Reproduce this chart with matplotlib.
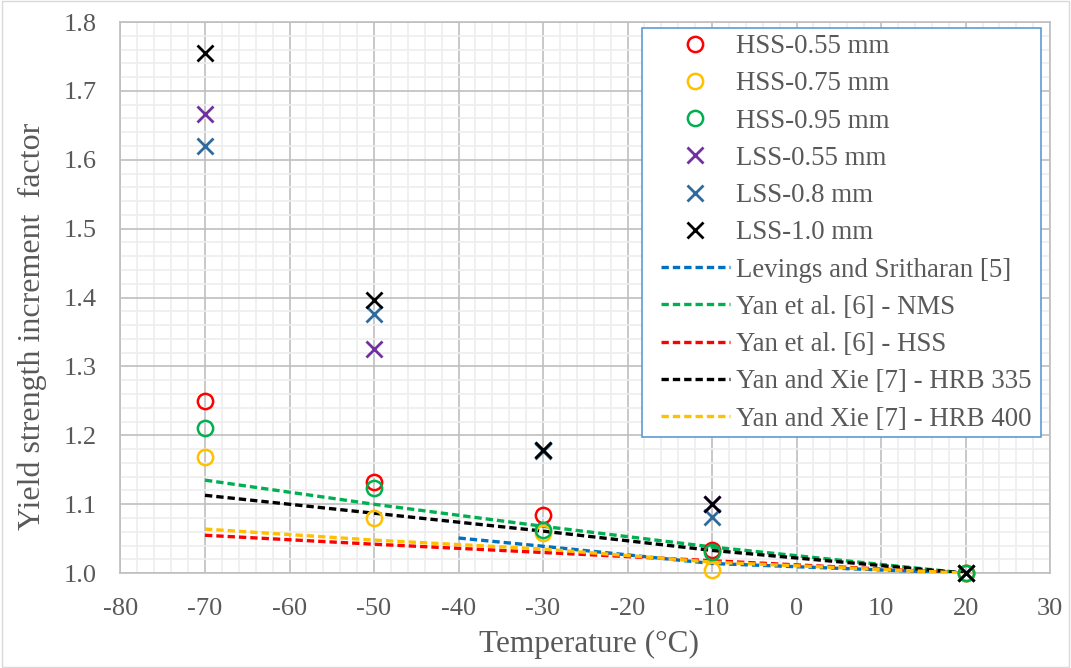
import matplotlib.pyplot as plt
from matplotlib.ticker import MultipleLocator, FuncFormatter

# test temperatures (deg C)
temps = [-70, -50, -30, -10, 20]

# measured yield strength increment factors
hss_055 = [1.250, 1.132, 1.085, 1.033, 1.000]
hss_075 = [1.168, 1.080, 1.058, 1.005, 1.000]
hss_095 = [1.210, 1.124, 1.062, 1.031, 1.000]
lss_055 = [1.667, 1.326, 1.179, 1.100, 1.000]
lss_08 = [1.620, 1.376, 1.178, 1.082, 1.000]
lss_10 = [1.755, 1.396, 1.179, 1.100, 1.000]

# predictions from the literature
lev_t = [-40, -30, -10, 20]
lev = [1.051, 1.039, 1.014, 1.000]
yan_nms = [1.135, 1.100, 1.068, 1.038, 1.000]
yan_hss = [1.055, 1.042, 1.030, 1.018, 1.000]
xie_335 = [1.113, 1.087, 1.061, 1.033, 1.000]
xie_400 = [1.064, 1.048, 1.035, 1.016, 1.000]

plt.rcParams['font.family'] = ['Liberation Serif', 'DejaVu Serif']
grey = '#595959'
W, H = 1071, 668

fig = plt.figure(figsize=(W / 100, H / 100), dpi=100)
ax = fig.add_axes([0.1125, 0.142, 0.868, 0.825])

fig.patches.append(plt.Rectangle((0.002, 0.002), 0.996, 0.996, transform=fig.transFigure,
                                 fill=False, edgecolor='#D9D9D9', linewidth=1))

circ = dict(marker='o', linestyle='none', markersize=11, markerfacecolor='none',
            markeredgewidth=1.8, zorder=5, clip_on=False)
cross = dict(marker='x', linestyle='none', markersize=11, markeredgewidth=2, zorder=5,
             clip_on=False)

ax.plot(temps, hss_055, color='#FF0000', label='HSS-0.55 mm', **circ)
ax.plot(temps, hss_075, color='#FFC000', label='HSS-0.75 mm', **circ)
ax.plot(temps, hss_095, color='#00B050', label='HSS-0.95 mm', **circ)
ax.plot(temps, lss_055, color='#7030A0', label='LSS-0.55 mm', **cross)
ax.plot(temps, lss_08, color='#2E6A9E', label='LSS-0.8 mm', **cross)
ax.plot(temps, lss_10, color='#000000', label='LSS-1.0 mm', **cross)

dash = dict(linestyle=(0, (2.2, 1.2)), linewidth=2.4, zorder=4)
ax.plot(lev_t, lev, color='#0070C0', label='Levings and Sritharan [5]', **dash)
ax.plot(temps, yan_nms, color='#00B050', label='Yan et al. [6] - NMS', **dash)
ax.plot(temps, yan_hss, color='#FF0000', label='Yan et al. [6] - HSS', **dash)
ax.plot(temps, xie_335, color='#000000', label='Yan and Xie [7] - HRB 335', **dash)
ax.plot(temps, xie_400, color='#FFC000', label='Yan and Xie [7] - HRB 400', **dash)

ax.set_xlim(-80, 30)
ax.set_ylim(1.0, 1.8)
ax.xaxis.set_major_locator(MultipleLocator(10))
ax.xaxis.set_minor_locator(MultipleLocator(2))
ax.yaxis.set_major_locator(MultipleLocator(0.1))
ax.yaxis.set_minor_locator(MultipleLocator(0.02))
# plain hyphen for negatives
ax.xaxis.set_major_formatter(FuncFormatter(lambda v, p: '%d' % round(v)))
ax.yaxis.set_major_formatter(FuncFormatter(lambda v, p: '%.1f' % v))
ax.grid(which='major', color='#BFBFBF', linewidth=1.2)
ax.grid(which='minor', color='#EEEEEE', linewidth=1.2)
ax.set_axisbelow(True)
for s in ax.spines.values():
    s.set_color('#BFBFBF')
    s.set_linewidth(1.2)
ax.tick_params(which='both', length=0, labelsize=19, colors=grey)
ax.tick_params(axis='x', pad=18)
ax.tick_params(axis='y', pad=17)

ax.set_xlabel('Temperature (°C)', fontsize=22.5, color=grey, va='center')
ax.set_ylabel('Yield strength increment  factor', fontsize=23, color=grey, va='center')
ax.xaxis.set_label_coords(0.5035, -0.13)
ax.yaxis.set_label_coords(-0.095, 0.448)

# legend box drawn separately so the padding can be set per side
box = plt.Rectangle((642 / W, 1 - 437 / H), 399 / W, 409 / H, transform=fig.transFigure,
                    facecolor='white', edgecolor='#5B9BD5', linewidth=1.2, zorder=5.5,
                    clip_on=False)
ax.add_patch(box)
leg = ax.legend(loc='upper left', bbox_to_anchor=(661 / W, 1 - 34 / H),
                bbox_transform=fig.transFigure, fontsize=19.4, frameon=False,
                borderaxespad=0, borderpad=0, handlelength=2.55, handletextpad=0.25,
                labelspacing=0.455)
leg.set_zorder(6)
for t in leg.get_texts():
    t.set_color(grey)

fig.savefig('out.png', dpi=100)
